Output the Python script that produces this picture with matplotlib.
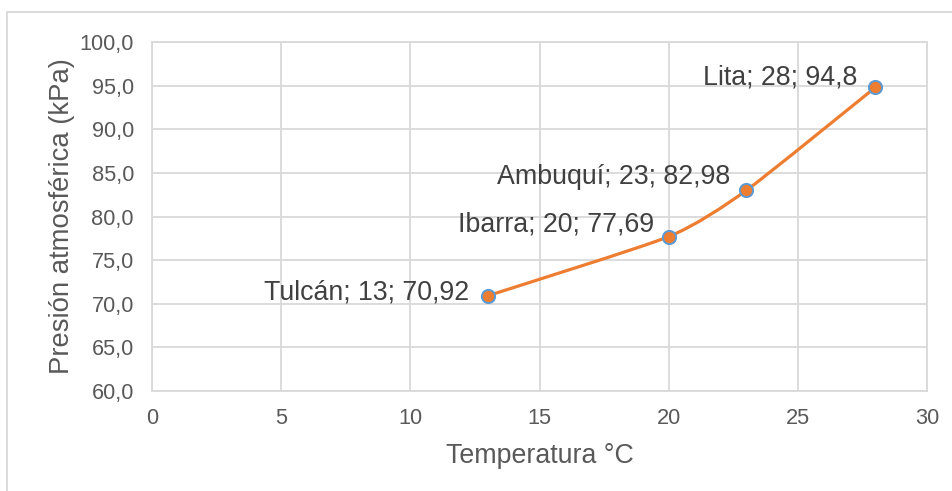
import matplotlib.pyplot as plt
import numpy as np
from matplotlib.path import Path
from matplotlib.patches import PathPatch, Rectangle

plt.rcParams['font.family'] = ['Liberation Sans', 'DejaVu Sans']

# data
places = ['Tulcán', 'Ibarra', 'Ambuquí', 'Lita']
temp = [13, 20, 23, 28]
pres = [70.92, 77.69, 82.98, 94.8]
pres_txt = ['70,92', '77,69', '82,98', '94,8']

# label offsets in pixels (dx, dy) from each point
offsets = [(-19, 3), (-15, 12), (-16, 13), (-18, 10)]

W, H = 952, 491
fig = plt.figure(figsize=(W / 100, H / 100), dpi=100)
ax = fig.add_axes([152 / W, 1 - 391 / H, (927 - 152) / W, (391 - 42) / H])

grid_c = '#D9D9D9'
txt_c = '#595959'

# outer chart border
fig.patches.append(Rectangle((7 / W, -0.05), 1.1, 1 - 12 / H + 0.05, transform=fig.transFigure,
                             fill=False, edgecolor=grid_c, linewidth=1.3, zorder=0))

# smoothed line (Excel style bezier through points)
x = np.array(temp, dtype=float)
y = np.array(pres, dtype=float)
verts = [(x[0], y[0])]
codes = [Path.MOVETO]
t = 1 / 10
for i in range(len(x) - 1):
    x0, y0 = (x[i - 1], y[i - 1]) if i > 0 else (x[i], y[i])
    x3, y3 = (x[i + 2], y[i + 2]) if i + 2 < len(x) else (x[i + 1], y[i + 1])
    c1 = (x[i] + (x[i + 1] - x0) * t, y[i] + (y[i + 1] - y0) * t)
    c2 = (x[i + 1] - (x3 - x[i]) * t, y[i + 1] - (y3 - y[i]) * t)
    verts += [c1, c2, (x[i + 1], y[i + 1])]
    codes += [Path.CURVE4] * 3
ax.add_patch(PathPatch(Path(verts, codes), fill=False, edgecolor='#ED7D31',
                       linewidth=2.3, capstyle='round', zorder=3))
ax.plot(temp, pres, linestyle='none', marker='o', markersize=9.5,
        markerfacecolor='#ED7D31', markeredgecolor='#5B9BD5', markeredgewidth=1.4, zorder=4)

for p, tx, py, ptxt, (dx, dy) in zip(places, temp, pres, pres_txt, offsets):
    ax.annotate(f'{p}; {tx}; {ptxt}', (tx, py), xytext=(dx, dy), textcoords='offset pixels',
                ha='right', va='center', fontsize=19.3, color='#404040', zorder=5)

ax.set_xlim(0, 30)
ax.set_ylim(60, 100)
ax.set_xticks(np.arange(0, 31, 5))
ax.set_yticks(np.arange(60, 101, 5))
ax.set_yticklabels([f'{v:.1f}'.replace('.', ',') for v in np.arange(60, 101, 5)])
ax.grid(True, color=grid_c, linewidth=1.3)
ax.set_axisbelow(True)
for s in ax.spines.values():
    s.set_color(grid_c)
    s.set_linewidth(1.3)
ax.tick_params(length=0, labelsize=15.7, labelcolor=txt_c, pad=12.5)
ax.tick_params(axis='y', pad=13)

ax.set_xlabel('Temperatura °C', fontsize=19.3, color=txt_c, labelpad=10)
ax.set_ylabel('Presión atmosférica (kPa)', fontsize=19.8, color=txt_c, labelpad=3)

fig.savefig('out.png', dpi=100)
